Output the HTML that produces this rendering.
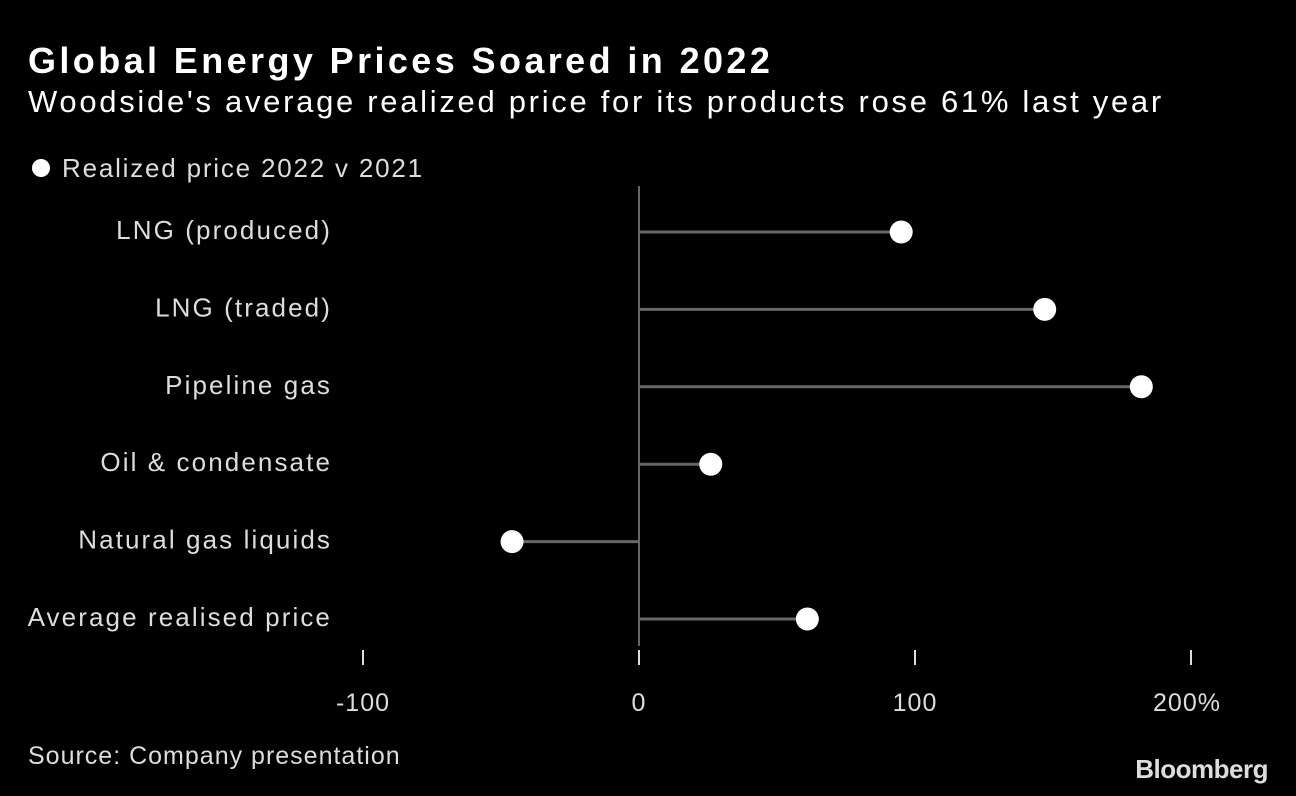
<!DOCTYPE html>
<html><head><meta charset="utf-8">
<style>
html,body{margin:0;padding:0;background:#000;}
body{width:1296px;height:796px;overflow:hidden;position:relative;font-family:"Liberation Sans","DejaVu Sans",sans-serif;color:#fff;}
#title{position:absolute;left:28px;top:40px;font-size:36px;font-weight:bold;margin:0;letter-spacing:3.4px;}
#subtitle{position:absolute;left:28px;top:84px;font-size:31px;margin:0;color:#fff;letter-spacing:2.7px;}
#source{position:absolute;left:28px;top:742px;font-size:25px;color:#ddd;letter-spacing:1px;}
#logo{position:absolute;right:28px;top:754px;font-size:26px;font-weight:bold;color:#ddd;letter-spacing:-0.5px;}
svg{position:absolute;left:0;top:0;}
</style></head>
<body>
<h1 id="title">Global Energy Prices Soared in 2022</h1>
<p id="subtitle">Woodside's average realized price for its products rose 61% last year</p>
<svg id="chart" width="1296" height="796"></svg>
<div id="source">Source: Company presentation</div>
<div id="logo">Bloomberg</div>
<script>
const categories = ["LNG (produced)","LNG (traded)","Pipeline gas","Oil & condensate","Natural gas liquids","Average realised price"];
const values = [95, 147, 182, 26, -46, 61];
const tickValues = [-100, 0, 100, 200];
const tickLabels = ["-100", "0", "100", "200%"];

const NS = "http://www.w3.org/2000/svg";
const svg = document.getElementById("chart");
const x = v => 639 + (v) * 2.76;
const rowY = i => 232 + i * 77.4;
function mk(tag, attrs){const e=document.createElementNS(NS,tag);for(const k in attrs)e.setAttribute(k,attrs[k]);svg.appendChild(e);return e;}

const ld = mk("circle",{cx:41,cy:168,r:9,fill:"#fff"});


const lt = mk("text",{x:62,y:177,"font-size":26,fill:"#ddd","letter-spacing":1.8});
lt.textContent = "Realized price 2022 v 2021";



const zl = mk("line",{x1:x(0),x2:x(0),y1:186,y2:646,stroke:"#888","stroke-width":1.5});



tickValues.forEach((t,i)=>{
  const tk = mk("line",{x1:x(t),x2:x(t),y1:650,y2:665,stroke:"#ddd","stroke-width":2});
  
  
  const tl = mk("text",{x:x(t)+(i===tickValues.length-1?-4:0),y:711,"font-size":25,fill:"#ddd","text-anchor":"middle","letter-spacing":1});
  tl.textContent = tickLabels[i];
  
  
});

categories.forEach((c,i)=>{
  const y = rowY(i);
  const lab = mk("text",{x:332,y:y+7,"font-size":26,fill:"#ddd","text-anchor":"end","letter-spacing":2.1});
  lab.textContent = c;
  
  
  const ln = mk("line",{x1:x(0),x2:x(values[i]),y1:y,y2:y,stroke:"#666","stroke-width":3});
  
  
  const d = mk("circle",{cx:x(values[i]),cy:y,r:11.5,fill:"#fff"});
  
  
});
</script>
</body></html>
